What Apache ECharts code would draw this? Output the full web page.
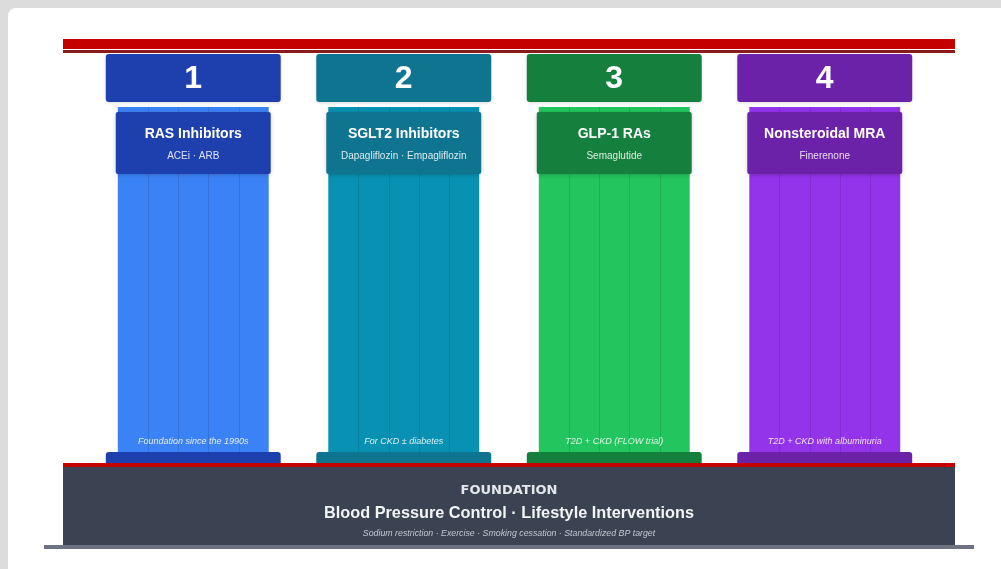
<!DOCTYPE html>
<html>
<head>
<meta charset="utf-8">
<script src="https://cdn.jsdelivr.net/npm/echarts@6/dist/echarts.min.js"></script>
<style>
html,body{margin:0;padding:0;background:#dcdcdc;}
#chart{width:1001px;height:569px;}
</style>
</head>
<body>
<div id="chart"></div>
<script>
// ---- data ----
const pillarNumbers = ['1', '2', '3', '4'];
const pillarNames = ['RAS Inhibitors', 'SGLT2 Inhibitors', 'GLP-1 RAs', 'Nonsteroidal MRA'];
const pillarDrugs = ['ACEi · ARB', 'Dapagliflozin · Empagliflozin', 'Semaglutide', 'Finerenone'];
const pillarNotes = ['Foundation since the 1990s', 'For CKD ± diabetes', 'T2D + CKD (FLOW trial)', 'T2D + CKD with albuminuria'];
const pillarHeights = [100, 100, 100, 100];
const foundationLabel = 'FOUNDATION';
const foundationTitle = 'Blood Pressure Control · Lifestyle Interventions';
const foundationSub = 'Sodium restriction · Exercise · Smoking cessation · Standardized BP target';

// ---- styles ----
const capColors = ['#1e40af', '#0e7490', '#15803d', '#6b21a8'];
const shaftColors = ['#3b82f6', '#0891b2', '#22c55e', '#9333ea'];
const FONT = '"Liberation Sans", Arial, Helvetica, sans-serif';

const chart = echarts.init(document.getElementById('chart'), null, {renderer: 'canvas'});

function renderPillar(params, api) {
  const i = api.value(0);
  const base = api.coord([i, 0]);
  const topPt = api.coord([i, api.value(1)]);
  const band = api.size([1, 0])[0];
  const cx = base[0];
  const bottom = base[1];
  const top = topPt[1];
  const capW = band * 0.831;
  const shaftW = band * 0.717;
  const boxW = band * 0.736;
  const shaftTop = top + 53;
  const shaftBottom = bottom - 11;
  const children = [];
  // shaft
  children.push({type: 'rect', shape: {x: cx - shaftW / 2, y: shaftTop, width: shaftW, height: shaftBottom - shaftTop},
    style: {fill: shaftColors[i]}});
  // fluting
  for (let k = 1; k < 5; k++) {
    const fx = Math.round(cx - shaftW / 2 + shaftW * k / 5) + 0.5;
    children.push({type: 'line', shape: {x1: fx, y1: shaftTop, x2: fx, y2: shaftBottom},
      style: {stroke: 'rgba(0,0,0,0.11)', lineWidth: 1}});
  }
  // capital
  children.push({type: 'rect', shape: {x: cx - capW / 2, y: top, width: capW, height: 48, r: 3},
    style: {fill: capColors[i], shadowBlur: 3, shadowColor: 'rgba(0,0,0,0.15)', shadowOffsetY: 1}});
  children.push({type: 'text', style: {x: cx, y: top + 25, text: pillarNumbers[i], fill: '#ffffff',
    font: 'bold 32px ' + FONT, align: 'center', verticalAlign: 'middle'}});
  // label box
  children.push({type: 'rect', shape: {x: cx - boxW / 2, y: top + 58, width: boxW, height: 62, r: 2},
    style: {fill: capColors[i], shadowBlur: 4, shadowColor: 'rgba(0,0,0,0.2)', shadowOffsetY: 1}});
  children.push({type: 'text', style: {x: cx, y: top + 80, text: pillarNames[i], fill: '#ffffff',
    font: 'bold 14px ' + FONT, align: 'center', verticalAlign: 'middle'}});
  children.push({type: 'text', style: {x: cx, y: top + 102, text: pillarDrugs[i], fill: 'rgba(255,255,255,0.85)',
    font: '10px ' + FONT, align: 'center', verticalAlign: 'middle'}});
  // note
  children.push({type: 'text', style: {x: cx, y: shaftBottom - 11, text: pillarNotes[i], fill: 'rgba(255,255,255,0.85)',
    font: 'italic 9px ' + FONT, align: 'center', verticalAlign: 'middle'}});
  // base
  children.push({type: 'rect', shape: {x: cx - capW / 2, y: shaftBottom, width: capW, height: bottom - shaftBottom, r: [3, 3, 0, 0]},
    style: {fill: capColors[i]}});
  return {type: 'group', children: children};
}

const option = {
  backgroundColor: '#dcdcdc',
  animation: false,
  grid: {left: 88, right: 71, top: 54, bottom: 106},
  xAxis: {type: 'category', data: pillarNames, show: false, boundaryGap: true},
  yAxis: {type: 'value', min: 0, max: 100, show: false},
  graphic: [
    {type: 'rect', z: -10, shape: {x: 8, y: 8, width: 1010, height: 600, r: 8}, style: {fill: '#ffffff'}},
    {type: 'rect', shape: {x: 63, y: 39, width: 892, height: 10}, style: {fill: '#c40000'}},
    {type: 'rect', shape: {x: 63, y: 50, width: 892, height: 3}, style: {fill: '#8b1a1a'}},
    {type: 'rect', shape: {x: 63, y: 463, width: 892, height: 4}, style: {fill: '#c40000'}},
    {type: 'rect', shape: {x: 63, y: 467, width: 892, height: 78}, style: {fill: '#3b4252'}},
    {type: 'rect', shape: {x: 44, y: 545, width: 930, height: 4}, style: {fill: '#6e7282'}},
    {type: 'text', style: {x: 509, y: 491, text: foundationLabel, fill: '#e5e7eb', font: 'bold 13px "DejaVu Sans", sans-serif',
      align: 'center', verticalAlign: 'middle'}},
    {type: 'text', style: {x: 509, y: 513.5, text: foundationTitle, fill: '#f3f4f6', font: 'bold 16.3px ' + FONT,
      align: 'center', verticalAlign: 'middle'}},
    {type: 'text', style: {x: 509, y: 533.5, text: foundationSub, fill: '#c3c8d2', font: 'italic 8.8px ' + FONT,
      align: 'center', verticalAlign: 'middle'}}
  ],
  series: [{
    type: 'custom',
    renderItem: renderPillar,
    data: pillarHeights.map((h, i) => [i, h]),
    clip: false
  }]
};
chart.setOption(option);
</script>
</body>
</html>
